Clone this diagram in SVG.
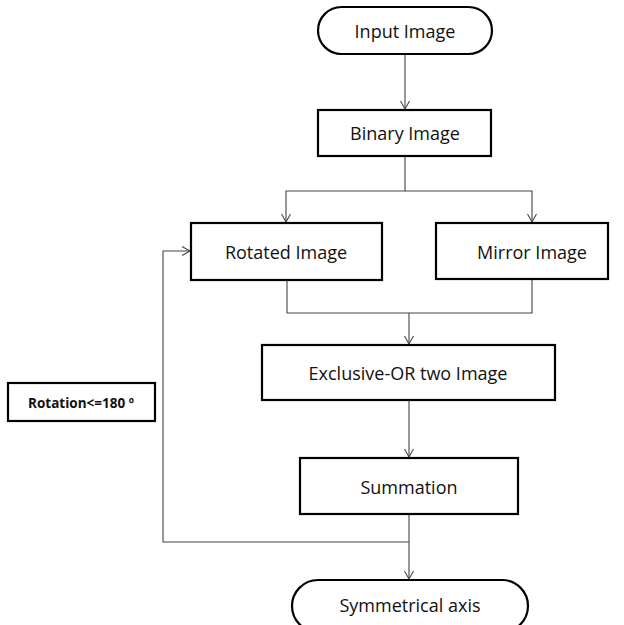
<svg xmlns="http://www.w3.org/2000/svg" width="624" height="625" viewBox="0 0 624 625">
<style>
.box{fill:#fff;stroke:#000;stroke-width:2.2}
.t{font-family:"Open Sans","Liberation Sans",sans-serif;font-size:18px;fill:#111;text-anchor:middle;dominant-baseline:central}
.tb{font-family:"Open Sans","Liberation Sans",sans-serif;font-size:13.5px;font-weight:bold;fill:#111;text-anchor:middle;dominant-baseline:central}
.c{fill:none;stroke:#444;stroke-width:1.1}
</style>
<defs>
<marker id="a" markerWidth="12" markerHeight="12" refX="9" refY="6" orient="auto" markerUnits="userSpaceOnUse">
<polyline points="1,1.5 9,6 1,10.5" fill="none" stroke="#444" stroke-width="1.1"/>
</marker>
</defs>
<rect width="624" height="625" fill="#fff"/>
<g id="connectors">
<line class="c" x1="405" y1="54" x2="405" y2="109" marker-end="url(#a)"/>
<polyline class="c" points="405,156 405,191 286,191 286,222" marker-end="url(#a)"/>
<polyline class="c" points="405,191 532,191 532,222" marker-end="url(#a)"/>
<polyline class="c" points="287,280 287,313 532,313 532,279"/>
<line class="c" x1="409" y1="313" x2="409" y2="344" marker-end="url(#a)"/>
<line class="c" x1="409" y1="400" x2="409" y2="457" marker-end="url(#a)"/>
<line class="c" x1="409" y1="514" x2="409" y2="579" marker-end="url(#a)"/>
<polyline class="c" points="409,542 163,542 163,251 190,251" marker-end="url(#a)"/>
</g>
<g id="input"><rect class="box" x="318" y="7" width="174" height="47" rx="23.5"/><text class="t" x="405" y="31">Input Image</text></g>
<g id="binary"><rect class="box" x="318" y="110" width="173" height="46"/><text class="t" x="405" y="133">Binary Image</text></g>
<g id="rotated"><rect class="box" x="191" y="223" width="191" height="57"/><text class="t" x="286" y="252">Rotated Image</text></g>
<g id="mirror"><rect class="box" x="436" y="223" width="172" height="56"/><text class="t" x="532" y="252">Mirror Image</text></g>
<g id="xor"><rect class="box" x="262" y="345" width="293" height="55"/><text class="t" x="408" y="373">Exclusive-OR two Image</text></g>
<g id="sum"><rect class="box" x="300" y="458" width="218" height="56"/><text class="t" x="409" y="487">Summation</text></g>
<g id="axis"><rect class="box" x="292" y="580" width="236" height="52" rx="26"/><text class="t" x="410" y="605">Symmetrical axis</text></g>
<g id="rotation"><rect class="box" x="8" y="383" width="147" height="38" stroke-width="1.6"/><text class="tb" x="81" y="403">Rotation&lt;=180 º</text></g>
</svg>
